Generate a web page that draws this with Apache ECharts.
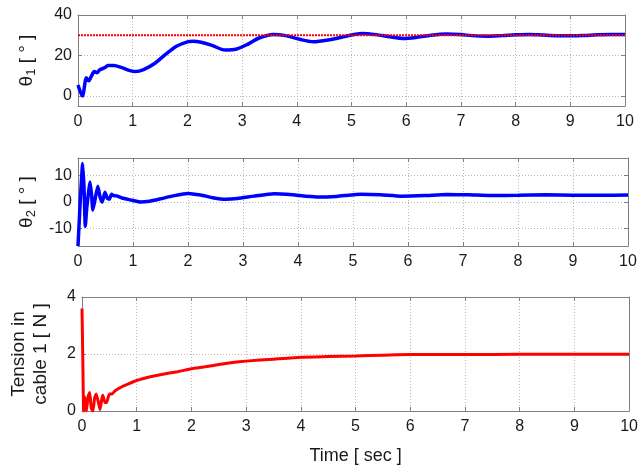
<!DOCTYPE html>
<html><head><meta charset="utf-8">
<script src="https://cdn.jsdelivr.net/npm/echarts@6/dist/echarts.min.js"></script>
<style>html,body{margin:0;padding:0;background:#fff}#c{width:641px;height:467px}</style>
</head><body><div id="c"></div>
<script>
// ---- data ----
const xTicks = [0,1,2,3,4,5,6,7,8,9,10];
const theta1T = [0,0.03,0.06,0.086,0.12,0.15,0.2,0.24,0.3,0.35,0.4,0.45,0.5,0.55,0.65,0.8,0.95,1.05,1.2,1.4,1.6,1.8,2.0,2.1,2.25,2.45,2.69,2.9,3.1,3.3,3.57,3.8,4.05,4.3,4.6,4.9,5.19,5.45,5.7,5.95,6.2,6.45,6.74,7.0,7.2,7.47,7.75,8.0,8.26,8.5,8.75,9.0,9.25,9.5,9.75,10];
const theta1V = [5.4,3,1,0,5,9,7.5,9.5,12,11.5,13,13.5,14.2,15,15,14,12.5,12,13,16,20.5,24.5,26.7,27,26.5,25,22.7,23.2,25.5,28.5,30.4,29.8,28,26.8,27.8,29.5,30.9,30.3,29.2,28.4,29,30,30.6,30.3,29.8,29.5,29.8,30.2,30.4,30.1,29.8,29.7,29.9,30.2,30.3,30.3];
const refT = [0,10];
const refV = [30,30];
const theta2T = [0,0.04,0.085,0.11,0.133,0.16,0.2,0.22,0.25,0.27,0.31,0.36,0.4,0.44,0.49,0.53,0.57,0.61,0.65,0.7,0.8,0.95,1.13,1.3,1.5,1.75,2.0,2.23,2.45,2.68,2.9,3.2,3.56,3.9,4.33,4.7,5.15,5.5,5.87,6.3,6.7,7.1,7.5,8.0,8.5,9.0,9.5,10];
const theta2V = [-16.5,0,14.4,5,-9.1,-2,5,7.5,2,-3,1,5.9,2,0,3.7,1.5,1,2.9,2.4,2.3,1.5,0.8,0,0.3,1.2,2.4,3.2,2.6,1.6,1.0,1.3,2.2,3.1,2.7,1.9,2.1,2.9,2.7,2.2,2.4,2.8,2.7,2.4,2.5,2.7,2.5,2.5,2.6];
const tensionT = [0,0.015,0.03,0.05,0.08,0.11,0.14,0.17,0.2,0.23,0.26,0.3,0.33,0.36,0.38,0.42,0.45,0.5,0.55,0.6,0.7,0.85,1.0,1.25,1.5,1.75,2.0,2.25,2.5,2.75,3.0,3.5,4.0,4.5,5.0,5.5,6.0,7,8,9,10];
const tensionV = [3.6,1.8,0,0.5,0,0.5,0.65,0.1,0.0,0.45,0.6,0.3,0.05,0.4,0.55,0.3,0.3,0.6,0.6,0.7,0.82,0.95,1.07,1.2,1.3,1.38,1.48,1.55,1.63,1.7,1.75,1.82,1.89,1.91,1.93,1.96,1.98,1.98,1.99,1.99,1.99];
const y1Ticks = [0,20,40];
const y2Ticks = [-10,0,10];
const y3Ticks = [0,2,4];

// ---- build ----
const zip = (a,b)=>a.map((v,i)=>[v,b[i]]);
const FONT = 'Liberation Sans, Arial, sans-serif';
const frame = '#808080';
const gridLine = {show:true, lineStyle:{color:'#b8b8b8', type:[1,2], width:1}};
const grids = [
  {left:78, right:16, top:15, height:91},
  {left:78, right:13, top:158, height:88},
  {left:79, right:9, top:297, height:114}
];
const xAxes = [], yAxes = [];
const yDefs = [
  {min:-5, max:40, ticks:y1Ticks, name:'θ{s|1} [ ° ]', gap:40},
  {min:-16.5, max:16.5, ticks:y2Ticks, name:'θ{s|2} [ ° ]', gap:40},
  {min:0, max:4, ticks:y3Ticks, name:'Tension in\ncable 1 [ N ]', gap:30}
];
grids.forEach((g,i)=>{
  xAxes.push({type:'value', gridIndex:i, min:0, max:10, interval:1, position:'bottom',
    axisLine:{onZero:false, lineStyle:{color:frame}},
    axisTick:{inside:true, length:4, lineStyle:{color:frame}},
    axisLabel:{color:'#1a1a1a', fontSize:16, fontFamily:FONT, margin:8},
    splitLine:gridLine,
    name: i===2 ? 'Time [ sec ]' : '', nameLocation:'middle', nameGap:36,
    nameTextStyle:{color:'#1a1a1a', fontSize:18, fontFamily:FONT}});
  xAxes.push({type:'value', gridIndex:i, min:0, max:10, interval:1, position:'top',
    axisLine:{onZero:false, lineStyle:{color:frame}},
    axisTick:{inside:true, length:4, lineStyle:{color:frame}},
    axisLabel:{show:false}, splitLine:{show:false}});
  const d = yDefs[i];
  yAxes.push({type:'value', gridIndex:i, min:d.min, max:d.max, position:'left',
    axisLine:{show:true, onZero:false, lineStyle:{color:frame}},
    axisTick:{show:true, inside:true, length:4, customValues:d.ticks, lineStyle:{color:frame}},
    axisLabel:{color:'#1a1a1a', fontSize:16, fontFamily:FONT, margin:6, customValues:d.ticks},
    splitLine:gridLine,
    name:d.name, nameLocation:'middle', nameRotate:90, nameGap:d.gap,
    nameTextStyle:{color:'#1a1a1a', fontSize:19, fontFamily:FONT, lineHeight:22,
      rich:{s:{fontSize:13, fontFamily:FONT, color:'#1a1a1a', verticalAlign:'bottom', padding:[9,0,0,0]}}}});
  yAxes.push({type:'value', gridIndex:i, min:d.min, max:d.max, position:'right',
    axisLine:{show:true, onZero:false, lineStyle:{color:frame}},
    axisTick:{show:true, inside:true, length:4, customValues:d.ticks, lineStyle:{color:frame}},
    axisLabel:{show:false}, splitLine:{show:false}});
});

const option = {
  animation:false,
  backgroundColor:'#fff',
  grid:grids,
  xAxis:xAxes,
  yAxis:yAxes,
  series:[
    {type:'line', xAxisIndex:0, yAxisIndex:0, data:zip(theta1T,theta1V), showSymbol:false, smooth:0.3,
      lineStyle:{color:'#0000ff', width:3.5}, z:3},
    {type:'line', xAxisIndex:0, yAxisIndex:0, data:zip(refT,refV), showSymbol:false,
      lineStyle:{color:'#ff0000', width:2, type:[2,1]}, z:4},
    {type:'line', xAxisIndex:2, yAxisIndex:2, data:zip(theta2T,theta2V), showSymbol:false, smooth:0.15,
      lineStyle:{color:'#0000ff', width:3.5}, z:3},
    {type:'line', xAxisIndex:4, yAxisIndex:4, data:zip(tensionT,tensionV), showSymbol:false, smooth:0.15,
      lineStyle:{color:'#ff0000', width:3}, z:3}
  ]
};
echarts.init(document.getElementById('c'), null, {renderer:'canvas'}).setOption(option);
</script></body></html>
